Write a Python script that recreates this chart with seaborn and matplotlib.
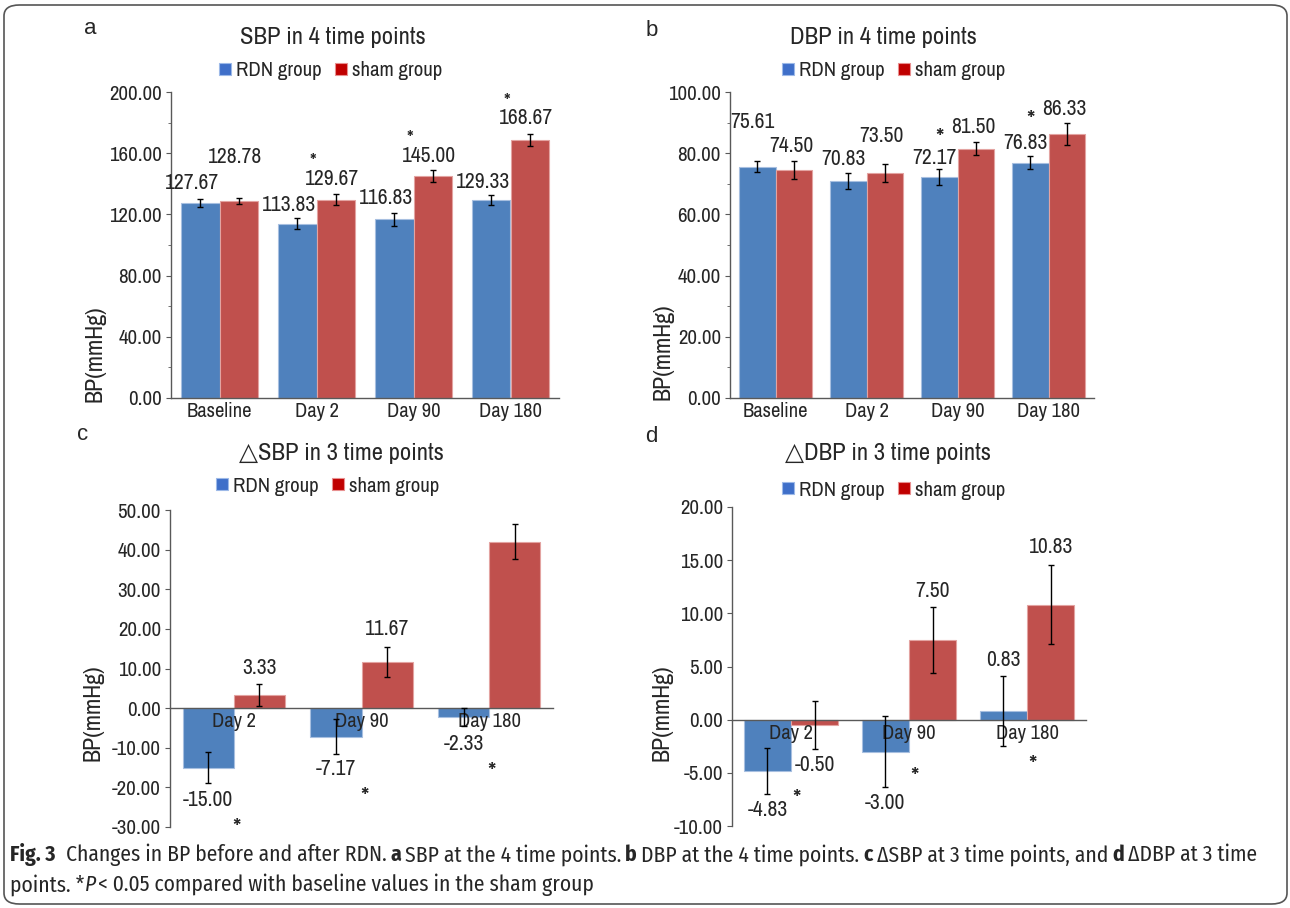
"""
Fig. 3 - BP before and after RDN (SBP / DBP / dSBP / dDBP)
"""
import numpy as np
import pandas as pd
import matplotlib
matplotlib.use('Agg')
import matplotlib.pyplot as plt
import seaborn as sns
from matplotlib import font_manager as fm
from matplotlib.patches import FancyBboxPatch
from matplotlib.lines import Line2D
from matplotlib.ticker import MultipleLocator, FormatStrFormatter, FixedLocator

# ---------------- data ----------------
groups = ['RDN group', 'sham group']

times4 = ['Baseline', 'Day 2', 'Day 90', 'Day 180']
sbp_rdn = [127.67, 113.83, 116.83, 129.33]
sbp_sham = [128.78, 129.67, 145.00, 168.67]
sbp_rdn_err = [2.6, 3.5, 4.2, 3.2]
sbp_sham_err = [2.0, 3.6, 4.1, 3.7]

dbp_rdn = [75.61, 70.83, 72.17, 76.83]
dbp_sham = [74.50, 73.50, 81.50, 86.33]
dbp_rdn_err = [1.75, 2.6, 2.7, 2.1]
dbp_sham_err = [2.9, 3.0, 2.2, 3.6]

times3 = ['Day 2', 'Day 90', 'Day 180']
dsbp_rdn = [-15.00, -7.17, -2.33]
dsbp_sham = [3.33, 11.67, 42.00]
dsbp_rdn_err = [3.9, 4.4, 2.3]
dsbp_sham_err = [2.8, 3.7, 4.4]

ddbp_rdn = [-4.83, -3.00, 0.83]
ddbp_sham = [-0.50, 7.50, 10.83]
ddbp_rdn_err = [2.2, 3.35, 3.3]
ddbp_sham_err = [2.3, 3.1, 3.7]

# ---------------- style ----------------
sns.set_style('white')
names = {f.name for f in fm.fontManager.ttflist}
NARROW, SC = 'Liberation Sans', 0.84
for cand in ['Liberation Sans Narrow', 'Arial Narrow', 'Archivo Narrow', 'PT Sans Narrow',
             'Roboto Condensed', 'Open Sans Condensed']:
    if cand in names:
        NARROW, SC = cand, 1.0
        break
CAP_FONT = 'Fira Sans Condensed' if 'Fira Sans Condensed' in names else NARROW
plt.rcParams['font.family'] = [NARROW, 'DejaVu Sans']
plt.rcParams['axes.unicode_minus'] = False

BLUE, RED = '#4F81BD', '#C0504D'
EDGE = {0: '#A7BFE0', 1: '#E3A3A1'}
LEG_BLUE, LEG_RED = '#3F6FC9', '#C00000'
AXC = '#595959'
STAR_SIZE = 19 * SC
LABEL_SIZE = 15.5 * SC

W, H = 1290, 908
fig = plt.figure(figsize=(W / 100, H / 100), dpi=100)
renderer = fig.canvas.get_renderer()


def fx(px):
    return px / W


def fy(py):
    return 1 - py / H


def draw_panel(rect, times, rdn, sham, rdn_err, sham_err, rdn_pad, sham_pad,
               ylim, major, minor=None, zero_axis=False, label_dx=(0, 0), star_over=()):
    ax = fig.add_axes(rect)
    n = len(times)
    df = pd.DataFrame({'time': times * 2,
                       'group': [groups[0]] * n + [groups[1]] * n,
                       'bp': rdn + sham})
    sns.barplot(data=df, x='time', y='bp', hue='group', order=times, hue_order=groups,
                palette=[BLUE, RED], saturation=1, errorbar=None, width=0.8,
                legend=False, linewidth=0.8, ax=ax)
    ax.set_axisbelow(False)
    ax.set_xlim(-0.5, n - 0.5)
    ax.set_ylim(*ylim)
    centers = []
    for k, (cont, vals, errs, pads) in enumerate(zip(ax.containers, [rdn, sham],
                                                   [rdn_err, sham_err], [rdn_pad, sham_pad])):
        xs = [b.get_x() + b.get_width() / 2 for b in cont]
        centers.append(xs)
        for b in cont:
            b.set_edgecolor(EDGE[k])
        ax.errorbar(xs, vals, yerr=errs, fmt='none', ecolor='black', elinewidth=1,
                    capsize=2.2, capthick=1, zorder=3)
        for i, (x, v, e, p) in enumerate(zip(xs, vals, errs, pads)):
            s = 1 if v >= 0 else -1
            anchor = (x, v + s * (e + p))
            t = ax.annotate(f'{v:.2f}', anchor, xytext=(label_dx[k], 0),
                            textcoords='offset points', ha='center', va='center',
                            fontsize=LABEL_SIZE)
            if k == 1 and i in star_over:
                # significance mark stacked over the value, kept in the same text
                half = t.get_window_extent(renderer).height / 2 * 72 / fig.dpi
                t.remove()
                ax.annotate(f' *\n{v:.2f}', anchor, xytext=(label_dx[k], -half),
                            textcoords='offset points', ha='center', va='bottom',
                            multialignment='left', linespacing=0.8, fontsize=LABEL_SIZE)
    ax.yaxis.set_major_locator(MultipleLocator(major))
    ax.yaxis.set_major_formatter(FormatStrFormatter('%.2f'))
    if minor:
        ax.yaxis.set_minor_locator(MultipleLocator(minor))
    ax.xaxis.set_minor_locator(FixedLocator(np.arange(n + 1) - 0.5))
    ax.tick_params(axis='x', which='major', length=0, labelsize=14.8 * SC, pad=3)
    ax.tick_params(axis='x', which='minor', length=3, direction='out', color=AXC)
    ax.tick_params(axis='y', which='major', length=3.5, direction='out', color=AXC,
                   labelsize=15 * SC, pad=3, left=True)
    ax.tick_params(axis='y', which='minor', length=2.5, direction='out', color=AXC, left=True)
    ax.set_xlabel('')
    ax.set_ylabel('')
    sns.despine(ax=ax)
    for sp in ['left', 'bottom']:
        ax.spines[sp].set_color(AXC)
        ax.spines[sp].set_linewidth(1)
    if zero_axis:
        ax.spines['bottom'].set_position(('data', 0))
    return ax, centers


def star(ax, x, y, dx=0):
    # the asterisk glyph sits high in its box, so shift it down to centre the mark
    ax.annotate('*', (x, y), xytext=(dx, -0.3 * STAR_SIZE), textcoords='offset points',
                ha='center', va='center', fontsize=STAR_SIZE)


def legend_at(cx, cy):
    handles = [Line2D([], [], marker='s', ls='none', markersize=9, markerfacecolor=c,
                      markeredgecolor=e, markeredgewidth=0.8)
               for c, e in [(LEG_BLUE, '#9DB9E8'), (LEG_RED, '#E89090')]]
    fig.legend(handles, groups, loc='center', bbox_to_anchor=(fx(cx), fy(cy)), ncol=2,
               frameon=False, fontsize=15 * SC, handlelength=0.7, handletextpad=0.15,
               columnspacing=0.6, borderpad=0)


# ---------------- panel a: SBP ----------------
axa, ca = draw_panel([fx(171), fy(398), fx(559 - 171), fy(92) - fy(398)], times4,
                     sbp_rdn, sbp_sham, sbp_rdn_err, sbp_sham_err,
                     [10, 9, 10, 8.5], [27, 10, 9.3, 10.4],
                     (0, 200), 40, 20, label_dx=(-6, -3), star_over=(1, 2, 3))

# ---------------- panel b: DBP ----------------
b_sham_pad = [5.1, 9.2, 4.8, 4.4]
axb, cb = draw_panel([fx(730), fy(398), fx(1094 - 730), fy(92) - fy(398)], times4,
                     dbp_rdn, dbp_sham, dbp_rdn_err, dbp_sham_err,
                     [12.9, 4.7, 3.4, 4.3], b_sham_pad,
                     (0, 100), 20, 10, label_dx=(-3.5, -2))
for i in [2, 3]:
    star(axb, cb[0][i], dbp_sham[i] + dbp_sham_err[i] + b_sham_pad[i] - 1.2)

# ---------------- panel c: dSBP ----------------
c_rdn_pad = [4.2, 3.9, 4.5]
axc, cc = draw_panel([fx(170), fy(827), fx(553 - 170), fy(510) - fy(827)], times3,
                     dsbp_rdn, dsbp_sham, dsbp_rdn_err, dsbp_sham_err,
                     c_rdn_pad, [4, 4.6, 4.4],
                     (-30, 50), 10, zero_axis=True)
for i in range(3):
    star(axc, i, dsbp_rdn[i] - dsbp_rdn_err[i] - c_rdn_pad[i] - 5.2, dx=2)

# ---------------- panel d: dDBP ----------------
axd, cd = draw_panel([fx(732), fy(826), fx(1086 - 732), fy(507) - fy(826)], times3,
                     ddbp_rdn, ddbp_sham, ddbp_rdn_err, ddbp_sham_err,
                     [1.5, 1.5, 1.47], [1.45, 1.5, 1.7],
                     (-10, 20), 5, zero_axis=True)
d_star_off = [0.3, 1.65, -1.1]
for i in range(3):
    low = min(ddbp_rdn[i] - ddbp_rdn_err[i], ddbp_sham[i] - ddbp_sham_err[i])
    star(axd, i, low + d_star_off[i], dx=4)

# ---------------- titles, legends, labels ----------------
for (tx, ty), t in zip([(333, 37), (883, 37), (341, 453), (888, 453)],
                       ['SBP in 4 time points', 'DBP in 4 time points',
                        '\u25b3SBP in 3 time points', '\u25b3DBP in 3 time points']):
    fig.text(fx(tx), fy(ty), t, ha='center', va='center', fontsize=17.8 * SC)

for cx, cy in [(330, 71), (893, 71), (327, 486), (893, 490)]:
    legend_at(cx, cy)

for (lx, ly), t in zip([(90, 28), (652, 30), (83, 435), (651, 437)], 'abcd'):
    fig.text(fx(lx), fy(ly), t, ha='center', va='center', fontsize=16,
             family=['Liberation Sans', 'DejaVu Sans'])

for lx, ly in [(95, 354), (663, 352), (93, 713), (662, 713)]:
    fig.text(fx(lx), fy(ly), 'BP(mmHg)', ha='center', va='center', rotation=90,
             fontsize=17.2 * SC)

# ---------------- caption ----------------


def runs(x_px, y_px, parts, size=14):
    x = fx(x_px)
    for txt, weight, style, gap in parts:
        t = fig.text(x, fy(y_px), txt, ha='left', va='center', fontsize=size,
                     fontweight=weight, style=style, family=[CAP_FONT, 'DejaVu Sans'])
        bb = t.get_window_extent(renderer=renderer)
        x = fx(bb.x1 + gap)


cap_size = 15.5 if CAP_FONT != 'Liberation Sans' else 12
runs(10, 855, [('Fig. 3', 'bold', 'normal', 10),
               ('Changes in BP before and after RDN.', 'normal', 'normal', 4),
               ('a', 'bold', 'normal', 4),
               ('SBP at the 4 time points.', 'normal', 'normal', 4),
               ('b', 'bold', 'normal', 4),
               ('DBP at the 4 time points.', 'normal', 'normal', 4),
               ('c', 'bold', 'normal', 4),
               ('\u0394SBP at 3 time points, and', 'normal', 'normal', 4),
               ('d', 'bold', 'normal', 4),
               ('\u0394DBP at 3 time', 'normal', 'normal', 4)], cap_size)
runs(10, 885, [('points. *', 'normal', 'normal', 1),
               ('P', 'normal', 'italic', 2),
               ('< 0.05 compared with baseline values in the sham group', 'normal', 'normal', 0)],
     cap_size)

border = FancyBboxPatch((fx(4), fy(904)), fx(1283), fy(5) - fy(904),
                        boxstyle='round,pad=0,rounding_size=0.012',
                        transform=fig.transFigure, fill=False, ec='#555555', lw=1.2)
fig.patches.append(border)

plt.savefig('out.png', dpi=100, facecolor='white')
plt.close()
